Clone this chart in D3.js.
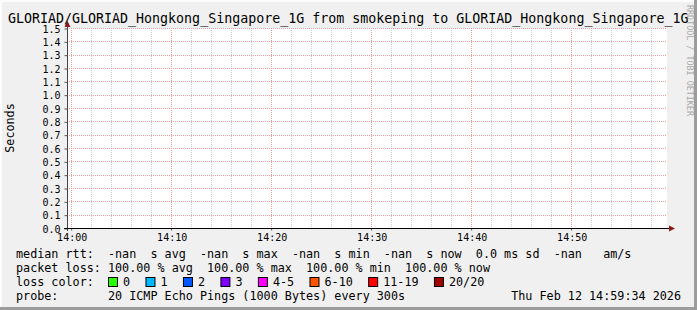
<!DOCTYPE html>
<html>
<head>
<meta charset="utf-8">
<script src="https://cdn.jsdelivr.net/npm/d3@7"></script>
<style>
  body { margin: 0; background: #f0f0f0; }
  svg { display: block; }
  text { font-family: "DejaVu Sans Mono", monospace; white-space: pre; }
</style>
</head>
<body>
<div id="chart"></div>
<script>
// chart data (no samples: every probe lost, rtt is nan)
const title = "GLORIAD/GLORIAD_Hongkong_Singapore_1G from smokeping to GLORIAD_Hongkong_Singapore_1G";
const timeStart = new Date(Date.UTC(2026, 1, 12, 13, 59, 38));
const timeEnd = new Date(Date.UTC(2026, 1, 12, 14, 59, 38));
const yMax = 1.5;
const yTicks = d3.range(0, 16).map(i => i / 10);
const medianRtt = [];   // all -nan
const legendRows = [
  "median rtt:  -nan  s avg  -nan  s max  -nan  s min  -nan  s now  0.0 ms sd  -nan   am/s",
  "packet loss: 100.00 % avg  100.00 % max  100.00 % min  100.00 % now",
  "loss color:",
  "probe:       20 ICMP Echo Pings (1000 Bytes) every 300s"
];
const lossLabels = ["0", "1", "2", "3", "4-5", "6-10", "11-19", "20/20"];
const lossColors = ["#26ff00", "#00b8ff", "#0059ff", "#7e00ff", "#ff00ff", "#ff5500", "#ff0000", "#a10000"];
const stamp = "Thu Feb 12 14:59:34 2026";

const width = 697, height = 310;
const plot = { left: 67, right: 667, top: 28, bottom: 228 };
const fs = 11.75;

const svg = d3.select("#chart").append("svg")
  .attr("width", width)
  .attr("height", height);

// frame
svg.append("rect").attr("width", width).attr("height", height).attr("fill", "#f0f0f0");
svg.append("path").attr("d", `M0,${height} V0 H${width}`).attr("stroke", "#fcfcfc").attr("stroke-width", 4).attr("fill", "none");
svg.append("path").attr("d", `M0,${height - 1.5} H${width - 1.5} V0`).attr("stroke", "#9c9c9c").attr("stroke-width", 3).attr("fill", "none");

const x = d3.scaleUtc().domain([timeStart, timeEnd]).range([plot.left, plot.right]);
const y = d3.scaleLinear().domain([0, yMax]).range([plot.bottom, plot.top]);

svg.append("rect")
  .attr("x", plot.left).attr("y", plot.top)
  .attr("width", plot.right - plot.left).attr("height", plot.bottom - plot.top)
  .attr("fill", "#ffffff");

// grid
const minor = x.ticks(d3.utcMinute.every(2));
const major = x.ticks(d3.utcMinute.every(10));
const grid = svg.append("g").attr("fill", "none").attr("stroke-dasharray", "1,1");
grid.selectAll(".vmin").data(minor).join("line")
  .attr("x1", d => Math.round(x(d)) + 0.5).attr("x2", d => Math.round(x(d)) + 0.5)
  .attr("y1", plot.top).attr("y2", plot.bottom)
  .attr("stroke", "#d0d0d0");
grid.selectAll(".vmaj").data(major).join("line")
  .attr("x1", d => Math.round(x(d)) + 0.5).attr("x2", d => Math.round(x(d)) + 0.5)
  .attr("y1", plot.top).attr("y2", plot.bottom)
  .attr("stroke", "#f29c9c");
grid.selectAll(".hmaj").data(yTicks.slice(1)).join("line")
  .attr("x1", plot.left).attr("x2", plot.right)
  .attr("y1", d => Math.round(y(d)) + 0.5).attr("y2", d => Math.round(y(d)) + 0.5)
  .attr("stroke", "#ee9e9e");

// rtt line (empty, all nan)
svg.append("path")
  .datum(medianRtt)
  .attr("fill", "none").attr("stroke", "#26ff00")
  .attr("d", d3.line().defined(d => d && !isNaN(d.v)).x(d => x(d.t)).y(d => y(d.v)));

// y axis
const yAxis = svg.append("g").attr("transform", `translate(${plot.left + 0.5},0)`)
  .call(d3.axisLeft(y).tickValues(yTicks).tickFormat(d3.format(".1f")).tickSize(3).tickPadding(4));
yAxis.select(".domain").remove();
yAxis.selectAll("line").attr("stroke", "#555").attr("transform", "translate(0,0.5)");
yAxis.selectAll("text").attr("font-size", 10).attr("fill", "#000")
  .attr("font-family", "DejaVu Sans Mono").attr("dy", "0.35em").attr("y", 0.5);

// x axis
const xAxis = svg.append("g").attr("transform", `translate(0,${plot.bottom + 0.5})`)
  .call(d3.axisBottom(x).tickValues(major).tickFormat(d3.utcFormat("%H:%M")).tickSize(2).tickPadding(3));
xAxis.select(".domain").remove();
xAxis.selectAll("line").attr("stroke", "#555").attr("transform", "translate(0.5,0)");
xAxis.selectAll("text").attr("font-size", 10).attr("fill", "#000")
  .attr("font-family", "DejaVu Sans Mono").attr("x", 1);

// axis lines and arrows
svg.append("line").attr("x1", plot.left + 0.5).attr("x2", plot.left + 0.5)
  .attr("y1", plot.bottom + 3).attr("y2", plot.top - 6).attr("stroke", "#444");
svg.append("line").attr("x1", plot.left - 3).attr("x2", plot.right + 4)
  .attr("y1", plot.bottom + 0.5).attr("y2", plot.bottom + 0.5).attr("stroke", "#000");
svg.append("path").attr("fill", "#8b1a1a")
  .attr("d", `M${plot.left + 0.5},${plot.top - 7} L${plot.left + 3.5},${plot.top - 1} L${plot.left - 2.5},${plot.top - 1} Z`);
svg.append("path").attr("fill", "#8b1a1a")
  .attr("d", `M${plot.right + 8},${plot.bottom + 0.5} L${plot.right + 2},${plot.bottom - 2.5} L${plot.right + 2},${plot.bottom + 3.5} Z`);

// title
svg.append("text").attr("x", 8).attr("y", 23)
  .attr("font-size", 13.3).attr("fill", "#000").text(title);

// y label
svg.append("text")
  .attr("transform", `translate(14,${(plot.top + plot.bottom) / 2}) rotate(-90)`)
  .attr("text-anchor", "middle").attr("font-size", fs).text("Seconds");

// watermark
svg.append("text")
  .attr("transform", "translate(687,5) rotate(90)")
  .attr("font-size", 8.4).attr("fill", "#a8a8a8").text("RRDTOOL / TOBI OETIKER");

// legend
const legendY = [258, 272, 286, 300];
svg.append("g").selectAll("text").data(legendRows).join("text")
  .attr("x", 16).attr("y", (d, i) => legendY[i])
  .attr("font-size", fs).attr("fill", "#000")
  .text(d => d);

const charW = 7.07;
let cx = 108;
const items = lossLabels.map(l => {
  const it = { label: l, x: cx };
  cx += 30.4 + charW * l.length;
  return it;
});
const sw = svg.append("g").selectAll("g").data(items).join("g")
  .attr("transform", d => `translate(${d.x},${legendY[2] - 9})`);
sw.append("rect").attr("x", 0.5).attr("y", 0.5).attr("width", 9).attr("height", 9)
  .attr("fill", (d, i) => lossColors[i]).attr("stroke", "#000");
sw.append("text").attr("x", 15).attr("y", 9)
  .attr("font-size", fs).text(d => d.label);

svg.append("text").attr("x", 681).attr("y", legendY[3])
  .attr("text-anchor", "end").attr("font-size", fs).text(stamp);
</script>
</body>
</html>
